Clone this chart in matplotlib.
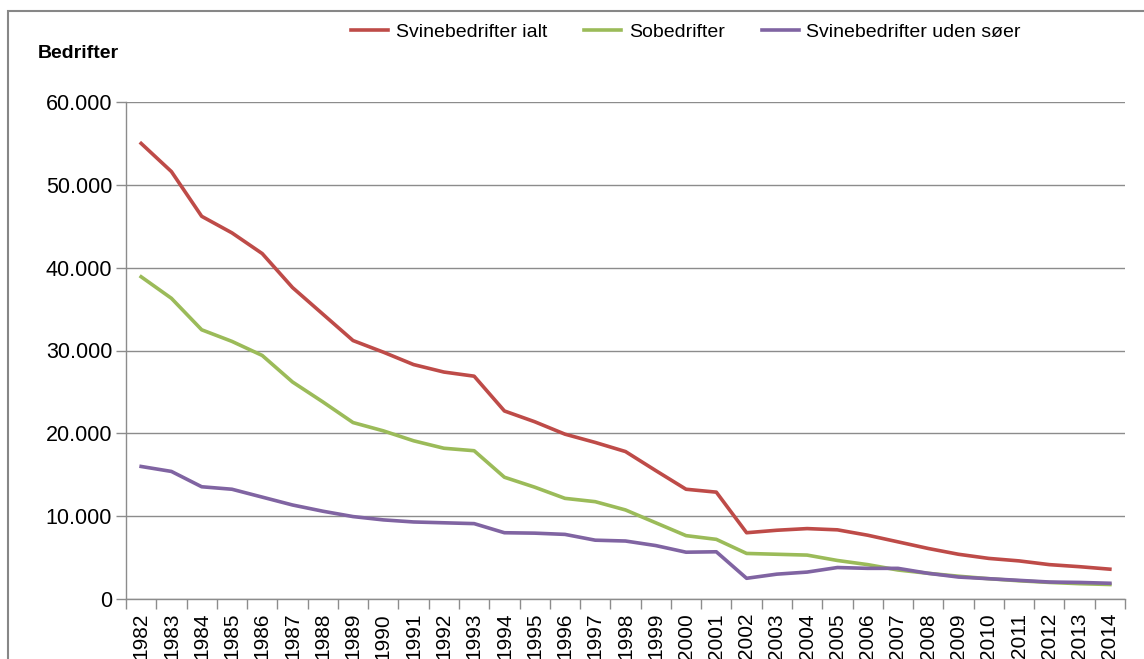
import matplotlib
matplotlib.use("Agg")
import matplotlib.pyplot as plt
from matplotlib.patches import Rectangle
from matplotlib.ticker import FuncFormatter, FixedLocator

years = list(range(1982, 2015))
svin_ialt = [55000, 51600, 46200, 44200, 41700, 37600, 34400, 31200, 29800, 28300,
             27400, 26900, 22700, 21400, 19900, 18900, 17800, 15500, 13250, 12900,
             8000, 8300, 8500, 8350, 7700, 6900, 6100, 5400, 4900, 4600,
             4150, 3900, 3600]
sobedrifter = [38900, 36300, 32500, 31100, 29400, 26200, 23800, 21300, 20300, 19100,
               18200, 17900, 14700, 13500, 12150, 11750, 10750, 9200, 7650, 7200,
               5500, 5400, 5300, 4650, 4150, 3500, 3100, 2750, 2450, 2200,
               2000, 1850, 1750]
svin_uden_soer = [16000, 15400, 13550, 13250, 12300, 11350, 10600, 9950, 9550, 9300,
                  9200, 9100, 8000, 7950, 7800, 7100, 7000, 6450, 5650, 5700,
                  2500, 3000, 3250, 3800, 3700, 3700, 3100, 2650, 2450, 2250,
                  2050, 2000, 1900]
series_names = ["Svinebedrifter ialt", "Sobedrifter", "Svinebedrifter uden søer"]
colors = ["#BE4B48", "#9BBB59", "#8064A2"]
y_ticks = [0, 10000, 20000, 30000, 40000, 50000, 60000]

plt.rcParams['font.family'] = ['Liberation Sans', 'DejaVu Sans']

fig = plt.figure(figsize=(11.44, 6.59), dpi=100)
ax = fig.add_axes([126/1144, 1-599/659, (1125-126)/1144, (599-102)/659])

x = list(range(len(years)))
for vals, name, c in zip([svin_ialt, sobedrifter, svin_uden_soer], series_names, colors):
    ax.plot(x, vals, color=c, lw=2.6, label=name, solid_joinstyle='round')

ax.set_xlim(-0.5, len(years) - 0.5)
ax.set_ylim(0, 60000)
ax.set_yticks(y_ticks)
ax.yaxis.set_major_formatter(FuncFormatter(lambda v, p: "0" if v == 0 else f"{int(v):,}".replace(",", ".")))
ax.grid(axis='y', color='#8c8c8c', lw=1.0)
ax.set_axisbelow(True)

ax.set_xticks(x)
ax.set_xticklabels([str(y) for y in years], rotation=90)
ax.xaxis.set_minor_locator(FixedLocator([i - 0.5 for i in range(len(years) + 1)]))
ax.tick_params(axis='x', which='major', length=0, pad=10, labelsize=15)
ax.tick_params(axis='x', which='minor', length=7, color='#8c8c8c', width=1)
ax.tick_params(axis='y', which='major', length=7, color='#8c8c8c', width=1, labelsize=15.5, pad=3)

for s in ['top', 'right']:
    ax.spines[s].set_visible(False)
for s in ['left', 'bottom']:
    ax.spines[s].set_color('#8c8c8c')
    ax.spines[s].set_linewidth(1)

fig.text(38/1144, 1-53/659, "Bedrifter", fontsize=14, fontweight='bold', va='center', ha='left')

leg = ax.legend(loc='center', bbox_to_anchor=(686/1144, 1-32/659), bbox_transform=fig.transFigure,
                ncol=3, frameon=False, fontsize=14, handlelength=1.9, handletextpad=0.4,
                columnspacing=1.9)

fig.patches.append(Rectangle((8/1144, -0.2), 1.5, 1.2 - 11/659, transform=fig.transFigure,
                             fill=False, edgecolor='#878787', lw=1.5, clip_on=False))

fig.savefig("out.png", dpi=100)
